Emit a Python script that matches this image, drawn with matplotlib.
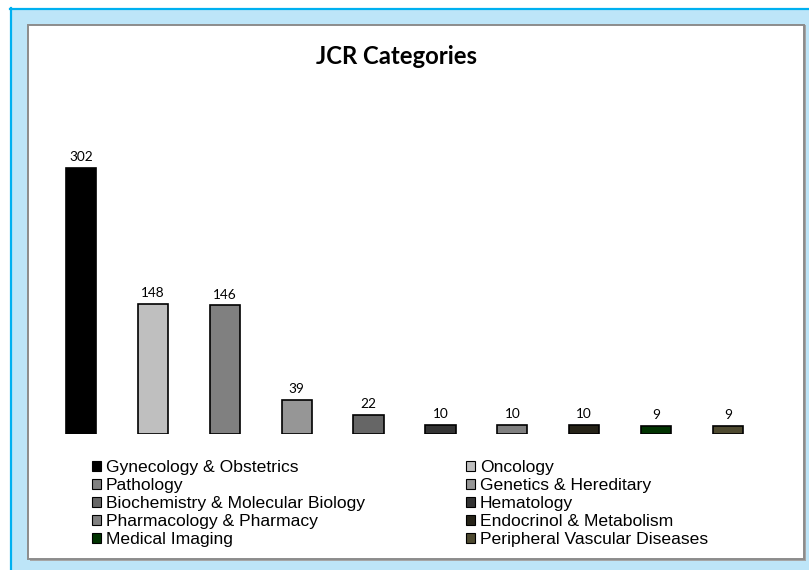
import matplotlib
matplotlib.use("Agg")
import matplotlib.pyplot as plt
from matplotlib.patches import Rectangle, Patch
from matplotlib.lines import Line2D

categories = ["Gynecology & Obstetrics", "Oncology", "Pathology", "Genetics & Hereditary",
              "Biochemistry & Molecular Biology", "Hematology", "Pharmacology & Pharmacy",
              "Endocrinol & Metabolism", "Medical Imaging", "Peripheral Vascular Diseases"]
values = [302, 148, 146, 39, 22, 10, 10, 10, 9, 9]
colors = ["#000000", "#BFBFBF", "#808080", "#969696", "#666666",
          "#333333", "#808080", "#262318", "#013301", "#4E4A30"]
title = "JCR Categories"

W, H = 809, 570
fig = plt.figure(figsize=(W / 100, H / 100), dpi=100)
fig.patch.set_facecolor("white")

def fx(px):
    return px / W

def fy(py):
    return 1 - py / H

# outer light blue frame
fig.add_artist(Rectangle((fx(10), 0), 1 - fx(10), fy(8), transform=fig.transFigure,
                         facecolor="#BDE5F8", edgecolor="none", zorder=0))
fig.add_artist(Line2D([fx(11), fx(11)], [0, fy(8)], transform=fig.transFigure,
                      color="#00B0F0", lw=1.6, zorder=1))
fig.add_artist(Line2D([fx(10), 1], [fy(8.5), fy(8.5)], transform=fig.transFigure,
                      color="#00B0F0", lw=1.6, zorder=1))
# inner white panel with shadow
fig.add_artist(Rectangle((fx(30), fy(561)), fx(776), 536 / H, transform=fig.transFigure,
                         facecolor="#A6A6A6", edgecolor="none", zorder=1))
fig.add_artist(Rectangle((fx(28), fy(559)), fx(776), 534 / H, transform=fig.transFigure,
                         facecolor="white", edgecolor="#8C8C8C", lw=1.4, zorder=2))

# axes for bars
top_px, base_px = 125.7, 434
ax = fig.add_axes([fx(45), fy(base_px), fx(764 - 45), (base_px - top_px) / H], zorder=3)
ax.patch.set_alpha(0)
x = list(range(len(values)))
bars = ax.bar(x, values, width=0.42, color=colors, edgecolor="#000000", linewidth=1.2)
ax.set_xlim(-0.5, len(values) - 0.5)
ax.set_ylim(0, 350)
ax.axis("off")
for xi, v in zip(x, values):
    ax.annotate(str(v), (xi, v), xytext=(0, 3.5), textcoords="offset points",
                ha="center", va="bottom", fontsize=9.8, family="Lato", color="#000000")

fig.text(fx(396), fy(57), title, ha="center", va="center", fontsize=17.2,
         fontweight="bold", family="Lato", color="#000000", zorder=4)

# legend: row-major order in two columns
handles = [Patch(facecolor=c, edgecolor="#000000", linewidth=0.8) for c in colors]
col1 = [0, 2, 4, 6, 8]
col2 = [1, 3, 5, 7, 9]
for idx, xpos in ((col1, 92), (col2, 466)):
    leg = fig.legend([handles[i] for i in idx], [categories[i] for i in idx],
                     loc="upper left", bbox_to_anchor=(fx(xpos), fy(460)),
                     frameon=False, prop={"family": "Liberation Sans", "size": 12.6},
                     handlelength=0.5, handleheight=0.5, handletextpad=0.3,
                     labelspacing=0.17, borderpad=0, borderaxespad=0)
    leg.set_zorder(5)

fig.savefig("out.png", dpi=100, facecolor="white")
